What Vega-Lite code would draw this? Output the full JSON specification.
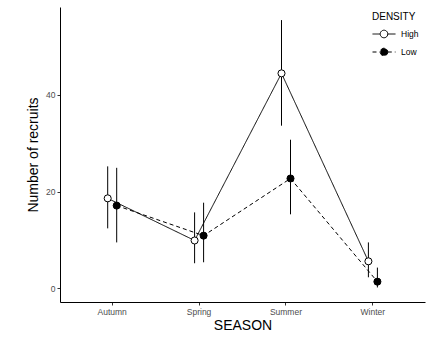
{
  "$schema": "https://vega.github.io/schema/vega-lite/v6.json",
  "width": 365,
  "height": 295,
  "autosize": {"type": "none"},
  "padding": {"left": 60, "top": 7, "right": 7, "bottom": 58},
  "config": {
    "view": {"stroke": null},
    "font": "Liberation Sans",
    "axis": {
      "grid": false,
      "domainColor": "#000000",
      "domainWidth": 1,
      "tickColor": "#333333",
      "tickSize": 3,
      "labelColor": "#4d4d4d",
      "labelFontSize": 8.5,
      "labelPadding": 2,
      "titleFontSize": 14,
      "titleFontWeight": "normal",
      "titleColor": "#000000"
    },
    "legend": {
      "titleFontSize": 10,
      "titleFontWeight": "normal",
      "titleColor": "#000000",
      "labelFontSize": 8.5,
      "labelColor": "#000000",
      "orient": "none",
      "legendX": 312,
      "legendY": 5,
      "symbolType": "M-1,0H-0.33M0.33,0H1M0.33,0A0.33,0.33 0 1 1 -0.33,0A0.33,0.33 0 1 1 0.33,0",
      "symbolSize": 529,
      "symbolStrokeColor": "#000000",
      "symbolStrokeWidth": 1,
      "rowPadding": -6,
      "titlePadding": 0,
      "labelOffset": 5
    }
  },
  "data": {
    "values": [
      {"SEASON": "Autumn", "DENSITY": "High", "recruits": 18.6, "lo": 12.4, "hi": 25.2},
      {"SEASON": "Autumn", "DENSITY": "Low", "recruits": 17.1, "lo": 9.5, "hi": 24.9},
      {"SEASON": "Spring", "DENSITY": "High", "recruits": 9.9, "lo": 5.2, "hi": 15.7},
      {"SEASON": "Spring", "DENSITY": "Low", "recruits": 10.9, "lo": 5.4, "hi": 17.7},
      {"SEASON": "Summer", "DENSITY": "High", "recruits": 44.4, "lo": 33.6, "hi": 55.4},
      {"SEASON": "Summer", "DENSITY": "Low", "recruits": 22.7, "lo": 15.3, "hi": 30.7},
      {"SEASON": "Winter", "DENSITY": "High", "recruits": 5.6, "lo": 2.3, "hi": 9.5},
      {"SEASON": "Winter", "DENSITY": "Low", "recruits": 1.4, "lo": 0.2, "hi": 4.3}
    ]
  },
  "encoding": {
    "x": {
      "field": "SEASON",
      "type": "nominal",
      "sort": ["Autumn", "Spring", "Summer", "Winter"],
      "scale": {"paddingInner": 0, "paddingOuter": 0.1},
      "axis": {"labelAngle": 0, "title": "SEASON", "titlePadding": 3}
    },
    "xOffset": {
      "field": "DENSITY",
      "type": "nominal",
      "scale": {"type": "point", "domain": ["High", "Low"], "range": [39, 48], "padding": 0}
    }
  },
  "layer": [
    {
      "mark": {"type": "line", "color": "#000000", "strokeWidth": 1},
      "encoding": {
        "y": {
          "field": "recruits",
          "type": "quantitative",
          "scale": {"domain": [-2.8, 58.1], "nice": false, "zero": false},
          "axis": {"values": [0, 20, 40], "title": "Number of recruits", "titlePadding": 5}
        },
        "strokeDash": {
          "field": "DENSITY",
          "type": "nominal",
          "title": "DENSITY",
          "scale": {"domain": ["High", "Low"], "range": [[1, 0], [4, 3]]}
        }
      }
    },
    {
      "mark": {"type": "rule", "color": "#000000", "strokeWidth": 1},
      "encoding": {
        "y": {"field": "lo", "type": "quantitative"},
        "y2": {"field": "hi"}
      }
    },
    {
      "mark": {"type": "point", "filled": true, "size": 50, "stroke": "#000000", "strokeWidth": 1, "opacity": 1, "shape": "circle"},
      "encoding": {
        "y": {"field": "recruits", "type": "quantitative"},
        "fill": {
          "field": "DENSITY",
          "type": "nominal",
          "title": "DENSITY",
          "scale": {"domain": ["High", "Low"], "range": ["#ffffff", "#000000"]}
        }
      }
    }
  ]
}
